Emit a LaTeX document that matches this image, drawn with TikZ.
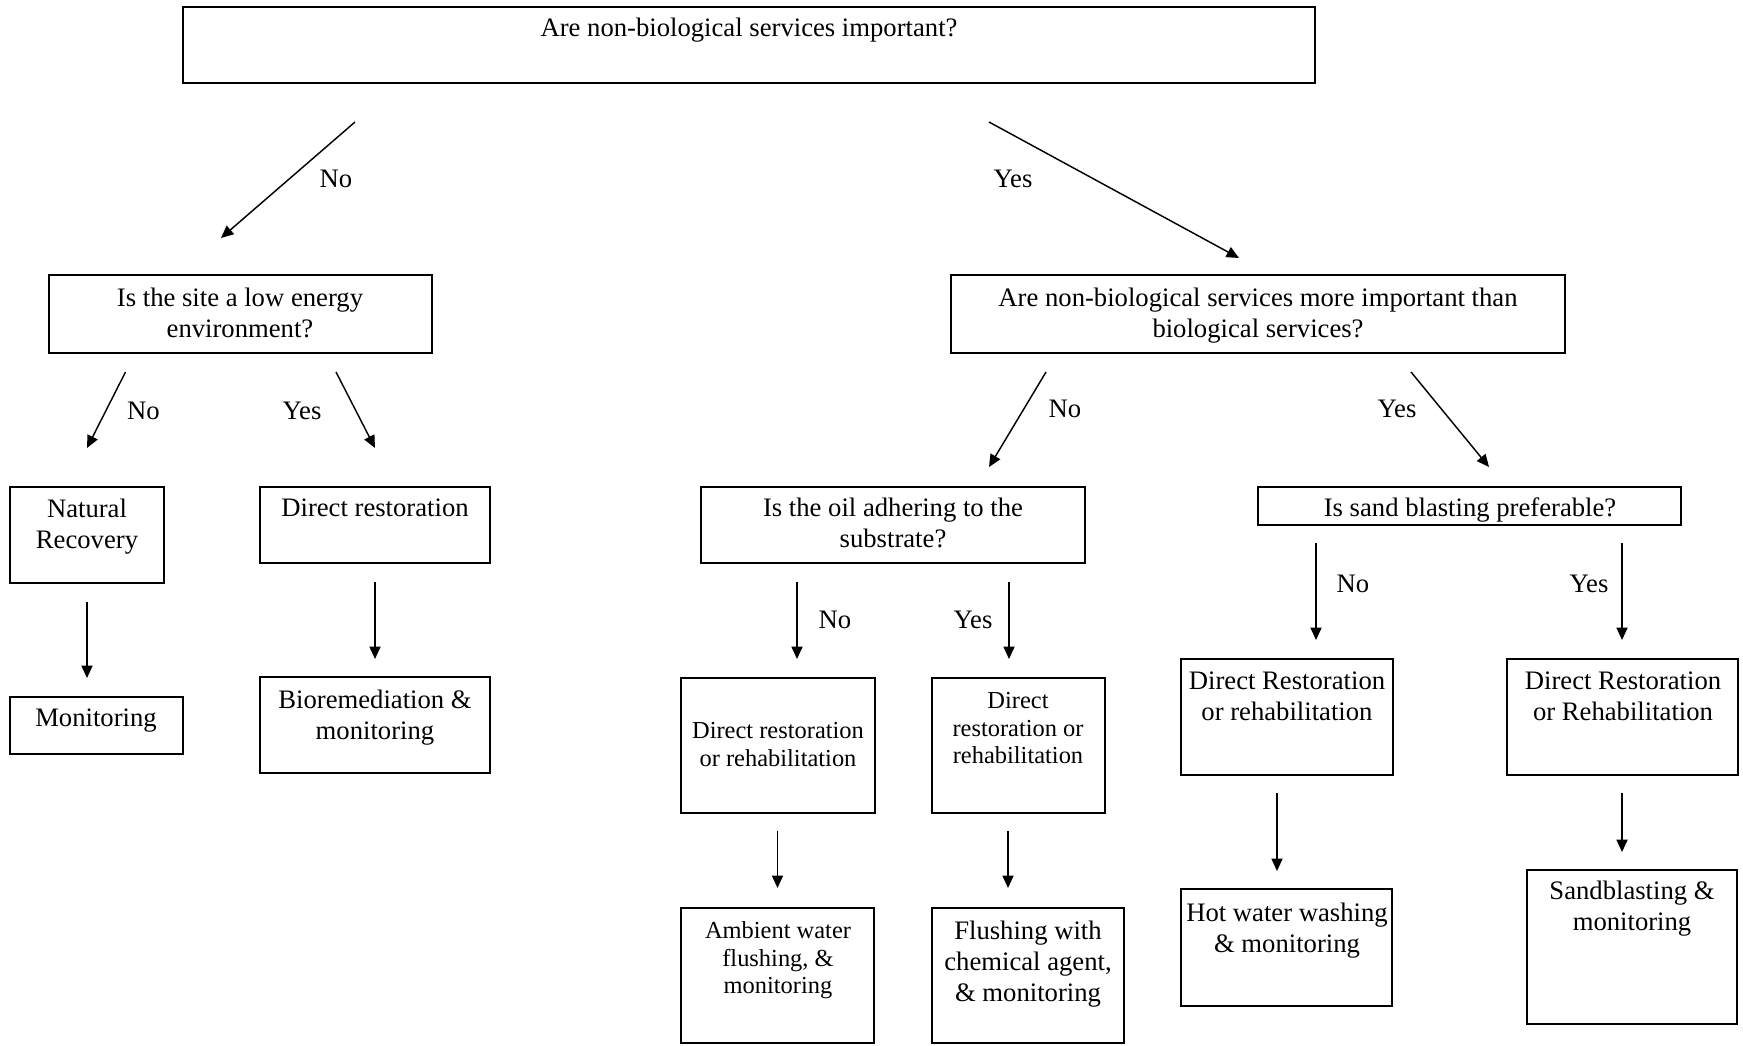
\documentclass[tikz,border=0pt]{standalone}
\usepackage{fontspec}
\setmainfont{Liberation Serif}
\usetikzlibrary{arrows.meta,fit}
\begin{document}
\begin{tikzpicture}[x=0.45pt,y=-0.45pt,
  box/.style={draw, line width=0.8pt, inner sep=0pt},
  txt/.style={anchor=north, inner sep=0pt, align=center, font=\fontsize{12}{13.95}\selectfont},
  smalltxt/.style={txt, font=\fontsize{11}{12.4}\selectfont},
  lbl/.style={anchor=base, inner sep=0pt, font=\fontsize{12}{13.95}\selectfont},
  arr/.style={-{Triangle[length=5.6pt,width=5pt]}, line width=0.65pt}]

\useasboundingbox (0,0) rectangle (1743,1045);

% ---------- boxes ----------
\node[box, fit={(183,7) (1315,83)}]      (q1)   {};
\node[box, fit={(49,275) (432,353)}]     (q2)   {};
\node[box, fit={(951,275) (1565,353)}]   (q3)   {};
\node[box, fit={(10,487) (164,583)}]     (nat)  {};
\node[box, fit={(10,697) (183,754)}]     (mon)  {};
\node[box, fit={(260,487) (490,563)}]    (dr)   {};
\node[box, fit={(260,677) (490,773)}]    (bio)  {};
\node[box, fit={(701,487) (1085,563)}]   (q4)   {};
\node[box, fit={(1258,487) (1681,525)}]  (q5)   {};
\node[box, fit={(681,678) (875,813)}]    (dr1)  {};
\node[box, fit={(932,678) (1105,813)}]   (dr2)  {};
\node[box, fit={(1181,659) (1393,775)}]  (dr3)  {};
\node[box, fit={(1507,659) (1738,775)}]  (dr4)  {};
\node[box, fit={(681,908) (874,1043)}]   (amb)  {};
\node[box, fit={(932,908) (1124,1043)}]  (fl)   {};
\node[box, fit={(1181,889) (1392,1006)}] (hot)  {};
\node[box, fit={(1527,870) (1737,1024)}] (sb)   {};

% ---------- box texts ----------
\node[txt] (q1t)  at (749,14.3) {\strut Are non-biological services important?};
\node[txt] (q2t)  at (240,284)  {\strut Is the site a low energy\\environment?};
\node[txt] (q3t)  at (1258,284) {\strut Are non-biological services more important than\\biological services?};
\node[txt] (natt) at (87,495)   {\strut Natural\\Recovery};
\node[txt] (mont) at (96,704)   {\strut Monitoring};
\node[txt] (drt)  at (375,494)  {\strut Direct restoration};
\node[txt] (biot) at (375,686)  {\strut Bioremediation \&\\monitoring};
\node[txt] (q4t)  at (893,494)  {\strut Is the oil adhering to the\\substrate?};
\node[txt] (q5t)  at (1470,494) {\strut Is sand blasting preferable?};
\node[smalltxt] (dr1t) at (778,719)  {\strut Direct restoration\\or rehabilitation};
\node[smalltxt] (dr2t) at (1018,689) {\strut Direct\\restoration or\\rehabilitation};
\node[txt] (dr3t) at (1287,667) {\strut Direct Restoration\\or rehabilitation};
\node[txt] (dr4t) at (1623,667) {\strut Direct Restoration\\or Rehabilitation};
\node[smalltxt] (ambt) at (778,919) {\strut Ambient water\\flushing, \&\\monitoring};
\node[txt] (flt)  at (1028,917) {\strut Flushing with\\chemical agent,\\\& monitoring};
\node[txt] (hott) at (1287,899) {\strut Hot water washing\\\& monitoring};
\node[txt] (sbt)  at (1632,877) {\strut Sandblasting \&\\monitoring};

% ---------- connector end points ----------
\coordinate (q1no)   at (355,122);   \coordinate (q2in)  at (221,238);
\coordinate (q1yes)  at (989,122);   \coordinate (q3in)  at (1239,258);
\coordinate (q2no)   at (125.5,372); \coordinate (natin) at (87,448);
\coordinate (q2yes)  at (336,372);   \coordinate (drin)  at (375,448);
\coordinate (natout) at (87,602);    \coordinate (monin) at (87,678);
\coordinate (drout)  at (375,582);   \coordinate (bioin) at (375,659);
\coordinate (q3no)   at (1046,372);  \coordinate (q4in)  at (989,467);
\coordinate (q3yes)  at (1411,372);  \coordinate (q5in)  at (1489,467);
\coordinate (q4no)   at (797,582);   \coordinate (dr1in) at (797,659);
\coordinate (q4yes)  at (1009,582);  \coordinate (dr2in) at (1009,659);
\coordinate (q5no)   at (1316,543);  \coordinate (dr3in) at (1316,640);
\coordinate (q5yes)  at (1622,543);  \coordinate (dr4in) at (1622,640);
\coordinate (dr1out) at (777.5,831); \coordinate (ambin) at (777.5,888);
\coordinate (dr2out) at (1008,831);  \coordinate (flin)  at (1008,888);
\coordinate (dr3out) at (1277,793);  \coordinate (hotin) at (1277,871);
\coordinate (dr4out) at (1622,793);  \coordinate (sbin)  at (1622,852);

% ---------- connectors ----------
\draw[arr] (q1no)   -- (q2in);
\draw[arr] (q1yes)  -- (q3in);
\draw[arr] (q2no)   -- (natin);
\draw[arr] (q2yes)  -- (drin);
\draw[arr] (natout) -- (monin);
\draw[arr] (drout)  -- (bioin);
\draw[arr] (q3no)   -- (q4in);
\draw[arr] (q3yes)  -- (q5in);
\draw[arr] (q4no)   -- (dr1in);
\draw[arr] (q4yes)  -- (dr2in);
\draw[arr] (q5no)   -- (dr3in);
\draw[arr] (q5yes)  -- (dr4in);
\draw[arr] (dr1out) -- (ambin);
\draw[arr] (dr2out) -- (flin);
\draw[arr] (dr3out) -- (hotin);
\draw[arr] (dr4out) -- (sbin);

% ---------- branch labels ----------
\node[lbl] (l1) at (336,187)  {No};
\node[lbl] (l2) at (1013,187) {Yes};
\node[lbl] (l3) at (143.5,419) {No};
\node[lbl] (l4) at (302,419)  {Yes};
\node[lbl] (l5) at (1065,417) {No};
\node[lbl] (l6) at (1397,417) {Yes};
\node[lbl] (l7) at (835,628)  {No};
\node[lbl] (l8) at (973,628)  {Yes};
\node[lbl] (l9) at (1353,592) {No};
\node[lbl] (l10) at (1589,592) {Yes};

\end{tikzpicture}
\end{document}
